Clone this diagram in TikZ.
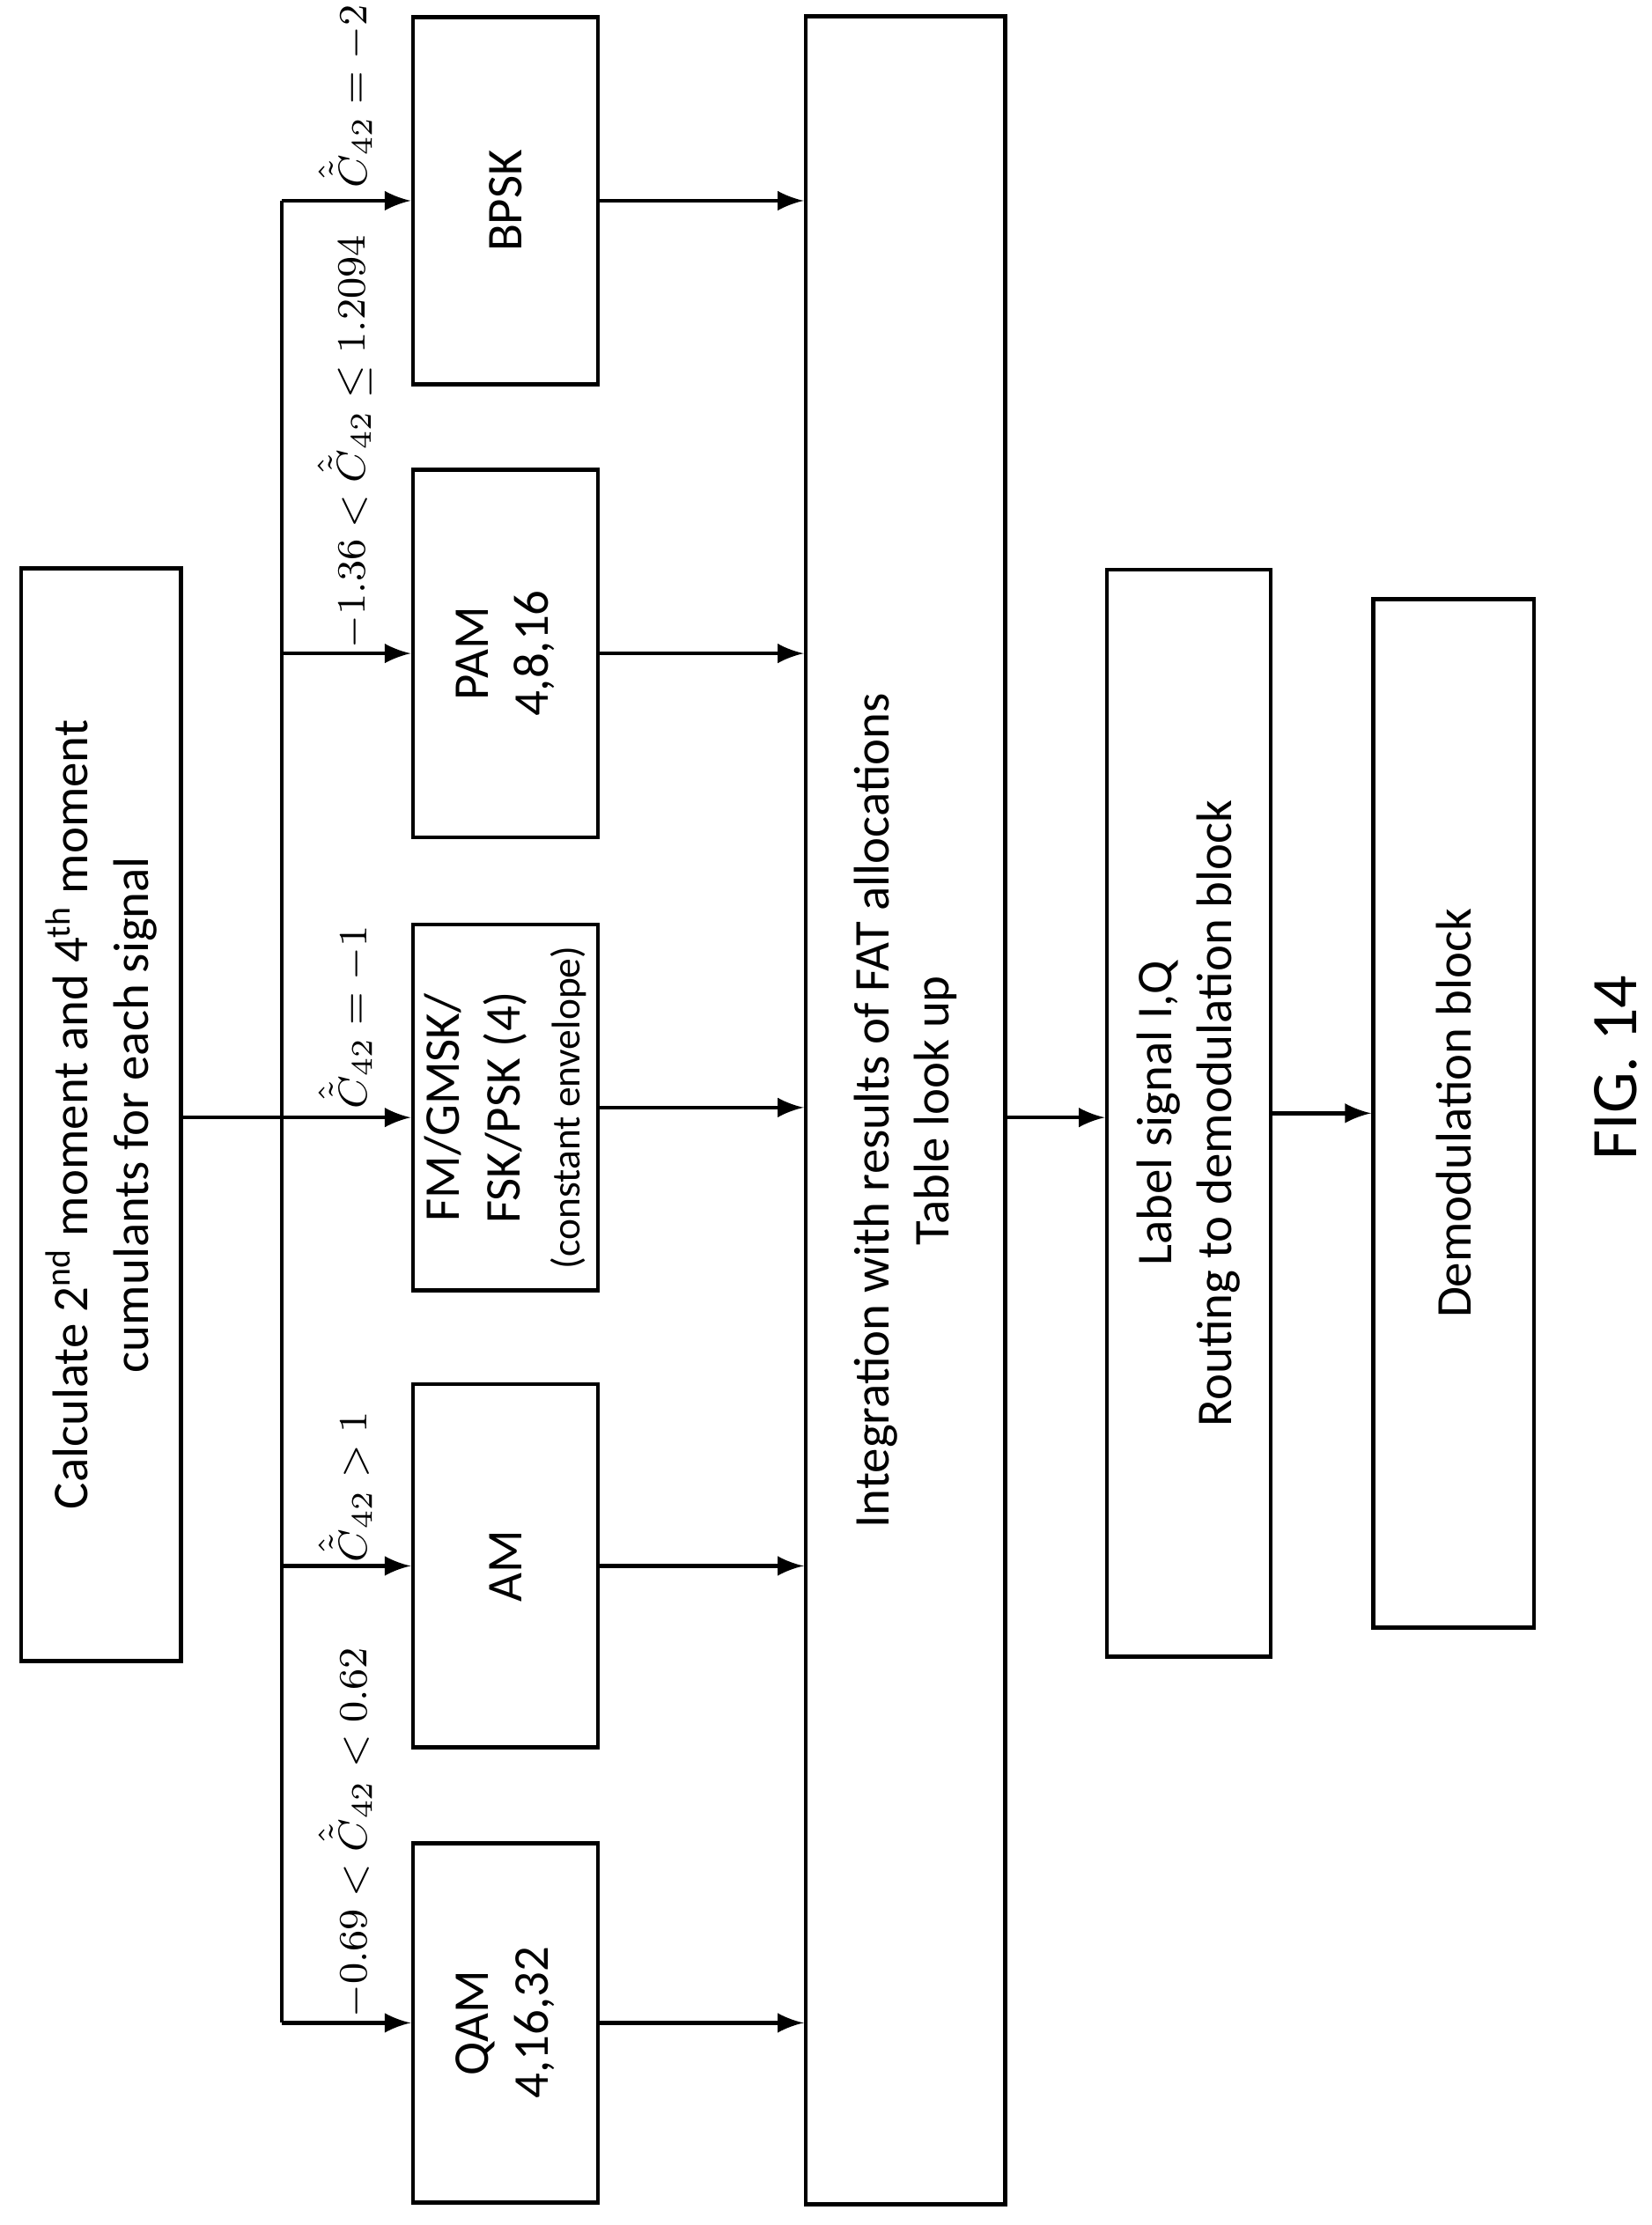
\documentclass[tikz,border=0pt]{standalone}
\usepackage{fontspec}
\setmainfont{Carlito}
\usetikzlibrary{positioning}
\begin{document}
\begin{tikzpicture}[x=0.01cm,y=-0.01cm,>=latex,
  box/.style={draw,thick,rotate=90,align=center,font=\fontsize{10}{12}\selectfont,inner sep=2pt},
  cond/.style={rotate=90,anchor=south west,inner sep=0pt,font=\fontsize{8.5}{10}\selectfont}]
\useasboundingbox (0,0) rectangle (1160,1563);
\newcommand{\cf}{\hat{\tilde{C}}_{42}}
% boxes
\node[box,minimum width=7.67cm,minimum height=1.12cm] (calc) at (71,783) {Calculate 2\textsuperscript{nd} moment and 4\textsuperscript{th} moment\\ cumulants for each signal};
\node[box,minimum width=2.52cm,minimum height=1.3cm] (qam) at (355,1421) {QAM\\ 4,16,32};
\node[box,minimum width=2.55cm,minimum height=1.3cm] (am) at (355,1100) {AM};
\node[box,minimum width=2.57cm,minimum height=1.3cm] (fm) at (355,778) {FM/GMSK/\\ FSK/PSK (4)\\ {\fontsize{8}{9}\selectfont(constant envelope)}};
\node[box,minimum width=2.58cm,minimum height=1.3cm] (pam) at (355,459) {PAM\\ 4,8,16};
\node[box,minimum width=2.58cm,minimum height=1.3cm] (bpsk) at (355,141) {BPSK};
\node[box,minimum width=15.36cm,minimum height=1.4cm] (integ) at (636,780) {Integration with results of FAT allocations\\ Table look up};
\node[box,minimum width=7.63cm,minimum height=1.15cm] (lbl) at (835,782) {Label signal I,Q\\ Routing to demodulation block};
\node[box,minimum width=7.22cm,minimum height=1.13cm] (demod) at (1021,782) {Demodulation block};
\node[rotate=90,font=\fontsize{13}{15}\selectfont] (fig) at (1135,750) {FIG. 14};
% split
\coordinate (sp) at (198,785);
\draw[thick] (sp|-bpsk.north) -- (sp|-qam.north);
\draw[thick,->] (calc.south|-sp) -- (fm.north|-sp);
\foreach \b in {qam,am,pam,bpsk}
  \draw[thick,->] (sp|-\b.north) -- (\b.north);
\foreach \b in {qam,am,fm,pam,bpsk}
  \draw[thick,->] (\b.south) -- (\b.south-|integ.north);
\draw[thick,->] (integ.south|-sp) -- (lbl.north|-sp);
\draw[thick,->] (lbl.south) -- (demod.north);
% conditions
\node[cond] (cq) at (262,1418) {$-0.69 < \cf < 0.62$};
\node[cond] (ca) at (262,1098) {$\cf > 1$};
\node[cond] (cf) at (262,780) {$\cf = -1$};
\node[cond] (cp) at (262,456) {$-1.36 < \cf \leq 1.2094$};
\node[cond] (cb) at (262,133) {$\cf = -2$};
\end{tikzpicture}
\end{document}
